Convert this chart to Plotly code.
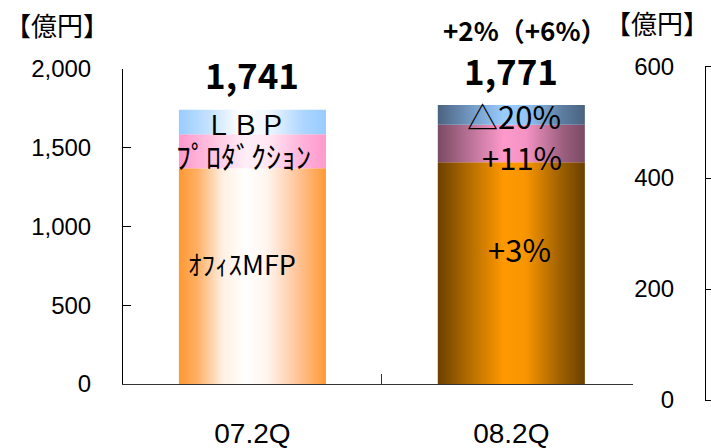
import plotly.graph_objects as go

# Quarterly sales by business (100 million yen)
categories = ["07.2Q", "08.2Q"]
office_mfp = [1370, 1408]
production = [215, 238]
lbp = [156, 125]
totals = [1741, 1771]
total_labels = ["1,741", "1,771"]

segment_names = ["ｵﾌｨｽMFP", "ﾌﾟﾛﾀﾞｸｼｮﾝ", "ＬＢＰ"]
growth_labels = ["+3%", "+11%", "△20%"]
total_growth = "+2%（+6%）"

y_ticks = [0, 500, 1000, 1500, 2000]
y_ticktext = ["0", "500", "1,000", "1,500", "2,000"]
y2_ticks = [0, 200, 400, 600]

W, H = 711, 448
BAR_W = 0.568
JP = "Noto Sans CJK JP, Liberation Sans, Arial"
LAT = "Liberation Sans, Arial"

# light (previous year) and shaded (current year) gradients for each segment
light = [
    [[0, "#ff9933"], [0.12, "#ffae62"], [0.3, "#fff0e3"], [0.45, "#ffffff"],
     [0.6, "#fff5ee"], [0.8, "#ffc69c"], [1, "#ff9933"]],
    [[0, "#ff99cc"], [0.25, "#ffc6e3"], [0.45, "#ffeef7"], [0.6, "#ffe8f4"],
     [0.85, "#ffb0d8"], [1, "#ff99cc"]],
    [[0, "#99ccff"], [0.2, "#c4e1ff"], [0.42, "#ffffff"], [0.6, "#f2f8ff"],
     [0.85, "#acd5ff"], [1, "#99ccff"]],
]
shaded = [
    [[0, "#6b4000"], [0.2, "#b06a00"], [0.45, "#ff9900"], [0.6, "#f79500"],
     [0.85, "#9a5d00"], [1, "#6b4000"]],
    [[0, "#7a4a63"], [0.2, "#b46f93"], [0.45, "#ff99cc"], [0.6, "#f493c4"],
     [0.85, "#9c5f7f"], [1, "#7a4a63"]],
    [[0, "#4a6380"], [0.2, "#6e93bc"], [0.45, "#99ccff"], [0.6, "#93c4f5"],
     [0.85, "#5c7c9f"], [1, "#4a6380"]],
]

fig = go.Figure()

segments = [office_mfp, production, lbp]
for i, cat in enumerate(categories):
    base = 0
    scales = light if i == 0 else shaded
    for s, seg in enumerate(segments):
        top = base + seg[i]
        x0, x1 = i - BAR_W / 2, i + BAR_W / 2
        fig.add_trace(go.Scatter(
            x=[x0, x1, x1, x0, x0], y=[base, base, top, top, base],
            fill="toself", mode="lines", line=dict(width=0),
            fillgradient=dict(type="horizontal", colorscale=scales[s]),
            hoverinfo="skip", showlegend=False, xaxis="x", yaxis="y",
        ))
        base = top

# empty companion panel on the right
fig.add_trace(go.Scatter(x=[], y=[], xaxis="x2", yaxis="y2", showlegend=False))

ann = []
# segment names inside the first bar
b0 = 0
mids0 = []
for seg in segments:
    mids0.append(b0 + seg[0] / 2)
    b0 += seg[0]
ann.append(dict(x=-0.04, y=mids0[0], text=segment_names[0], yshift=13,
                font=dict(family=JP, size=27, color="black")))
ann.append(dict(x=-0.035, y=mids0[1], text=segment_names[1], yshift=-4,
                font=dict(family=JP, size=30, color="black")))
ann.append(dict(x=-0.025, y=mids0[2], text=segment_names[2], yshift=-1,
                font=dict(family=JP, size=27, color="black")))

# growth rates inside the second bar
b1 = 0
mids1 = []
for seg in segments:
    mids1.append(b1 + seg[1] / 2)
    b1 += seg[1]
ann.append(dict(x=1.03, y=mids1[0], text=growth_labels[0], yshift=25,
                font=dict(family=JP, size=31, color="black")))
ann.append(dict(x=1.04, y=mids1[1], text=growth_labels[1], yshift=-13,
                font=dict(family=JP, size=31, color="black")))
ann.append(dict(x=1.01, y=mids1[2], text=growth_labels[2], yshift=-1,
                font=dict(family=JP, size=31, color="black")))

# totals above the bars
for i, t in enumerate(totals):
    ann.append(dict(x=i, y=t, text=f"<b>{total_labels[i]}</b>", yshift=36,
                    font=dict(family=JP, size=35, color="black")))
ann.append(dict(x=1.05, y=totals[1], text=f"<b>{total_growth}</b>", yshift=76,
                font=dict(family=JP, size=26, color="black")))

for a in ann:
    a.update(xref="x", yref="y", showarrow=False, xanchor="center", yanchor="middle")

# unit labels
ann.append(dict(x=57 / W, y=1 - 25 / H, xref="paper", yref="paper",
                text="【億円】", showarrow=False, xanchor="center",
                yanchor="middle", font=dict(family=JP, size=26, color="black")))
ann.append(dict(x=1, y=1 - 23 / H, xref="paper", yref="paper",
                text="【億円】", showarrow=False, xanchor="right",
                yanchor="middle", font=dict(family=JP, size=26, color="black")))

fig.update_layout(
    width=W, height=H,
    margin=dict(l=0, r=0, t=0, b=0, autoexpand=False),
    paper_bgcolor="white", plot_bgcolor="white",
    showlegend=False,
    annotations=ann,
    xaxis=dict(
        domain=[123 / W, 633 / W], range=[-0.5, 1.47],
        tickmode="array", tickvals=[0, 1], ticktext=categories,
        ticks="", showline=True, linecolor="#333333", linewidth=1,
        showgrid=False, zeroline=False, automargin=False,
        tickfont=dict(family=LAT, size=28, color="black"),
        ticklabelstandoff=24,
        minor=dict(tickmode="array", tickvals=[0.5], ticks="inside",
                   ticklen=10, tickcolor="#333333", showgrid=False),
        anchor="y",
    ),
    yaxis=dict(
        domain=[(H - 384) / H, (H - 69) / H], range=[0, 2000],
        tickmode="array", tickvals=y_ticks, ticktext=y_ticktext,
        ticks="inside", ticklen=8, tickcolor="black",
        showline=True, linecolor="black", linewidth=1,
        showgrid=False, zeroline=False, automargin=False,
        tickfont=dict(family=LAT, size=24, color="black"),
        ticklabelstandoff=26, anchor="x",
    ),
    xaxis2=dict(
        domain=[706 / W, 1], range=[0, 1], anchor="y2",
        showline=True, mirror=True, linecolor="black", linewidth=1,
        showticklabels=False, ticks="", showgrid=False, zeroline=False,
        automargin=False,
    ),
    yaxis2=dict(
        domain=[(H - 400) / H, (H - 67) / H], range=[0, 600], anchor="x2",
        tickmode="array", tickvals=y2_ticks,
        ticks="inside", ticklen=8, tickcolor="black",
        showline=True, linecolor="black", linewidth=1,
        showgrid=False, zeroline=False, automargin=False,
        tickfont=dict(family=LAT, size=24, color="black"),
        ticklabelstandoff=26,
    ),
)

fig.write_html("out.html")
